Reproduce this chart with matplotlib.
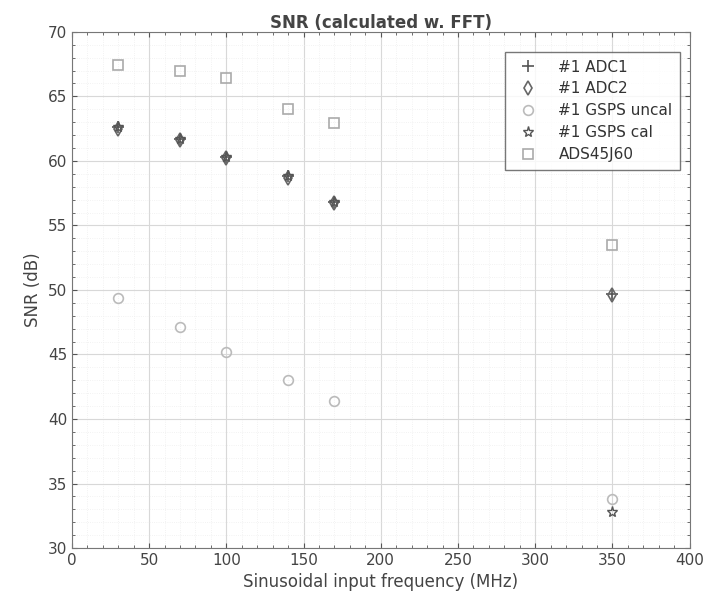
import matplotlib
matplotlib.use("Agg")
import matplotlib.pyplot as plt
from matplotlib.ticker import MultipleLocator

freq = [30, 70, 100, 140, 170, 350]
adc1 = [62.6, 61.7, 60.3, 58.8, 56.8, 49.7]
adc2 = [62.5, 61.6, 60.2, 58.7, 56.7, 49.6]
gsps_uncal = [49.4, 47.1, 45.2, 43.0, 41.4, 33.8]
gsps_cal = [62.6, 61.7, 60.3, 58.8, 56.8, 32.8]
ads45j60 = [67.4, 67.0, 66.4, 64.0, 62.9, 53.5]

fig = plt.figure(figsize=(7.26, 6.13), dpi=100)
ax = fig.add_axes([0.099, 0.106, 0.851, 0.842])

ax.plot(freq, adc1, "+", color="#555555", ms=8, mew=1.2, label="#1 ADC1")
ax.plot(freq, adc2, "d", mfc="none", color="#666666", ms=7, mew=1.2, label="#1 ADC2")
ax.plot(freq, gsps_uncal, "o", mfc="none", color="#bbbbbb", ms=7, mew=1.2, label="#1 GSPS uncal")
ax.plot(freq, gsps_cal, "*", mfc="none", color="#555555", ms=8, mew=1.0, label="#1 GSPS cal")
ax.plot(freq, ads45j60, "s", mfc="none", color="#aaaaaa", ms=7, mew=1.2, label="ADS45J60")

ax.set_xlim(0, 400)
ax.set_ylim(30, 70)
ax.xaxis.set_major_locator(MultipleLocator(50))
ax.yaxis.set_major_locator(MultipleLocator(5))
ax.xaxis.set_minor_locator(MultipleLocator(10))
ax.yaxis.set_minor_locator(MultipleLocator(1))
ax.grid(which="major", color="#d8d8d8", lw=0.8)
ax.grid(which="minor", color="#eeeeee", lw=0.6, ls=":")
ax.tick_params(which="both", direction="in", top=True, right=True, colors="#555555", labelsize=11)
ax.tick_params(labelcolor="#444444")
for s in ax.spines.values():
    s.set_color("#777777")

ax.set_xlabel("Sinusoidal input frequency (MHz)", fontsize=12, color="#444444")
ax.set_ylabel("SNR (dB)", fontsize=12, color="#444444")
ax.set_title("SNR (calculated w. FFT)", fontsize=12, fontweight="bold", color="#444444", pad=3)

# legend a bit larger/taller, like the scanned original
leg = ax.legend(loc="upper right", bbox_to_anchor=(0.992, 0.97), fontsize=11, frameon=True,
                fancybox=False, edgecolor="#555555", handletextpad=1.0, borderpad=0.5,
                labelspacing=0.45, borderaxespad=0.3)
for t in leg.get_texts():
    t.set_color("#333333")

fig.savefig("out.png", dpi=100)
